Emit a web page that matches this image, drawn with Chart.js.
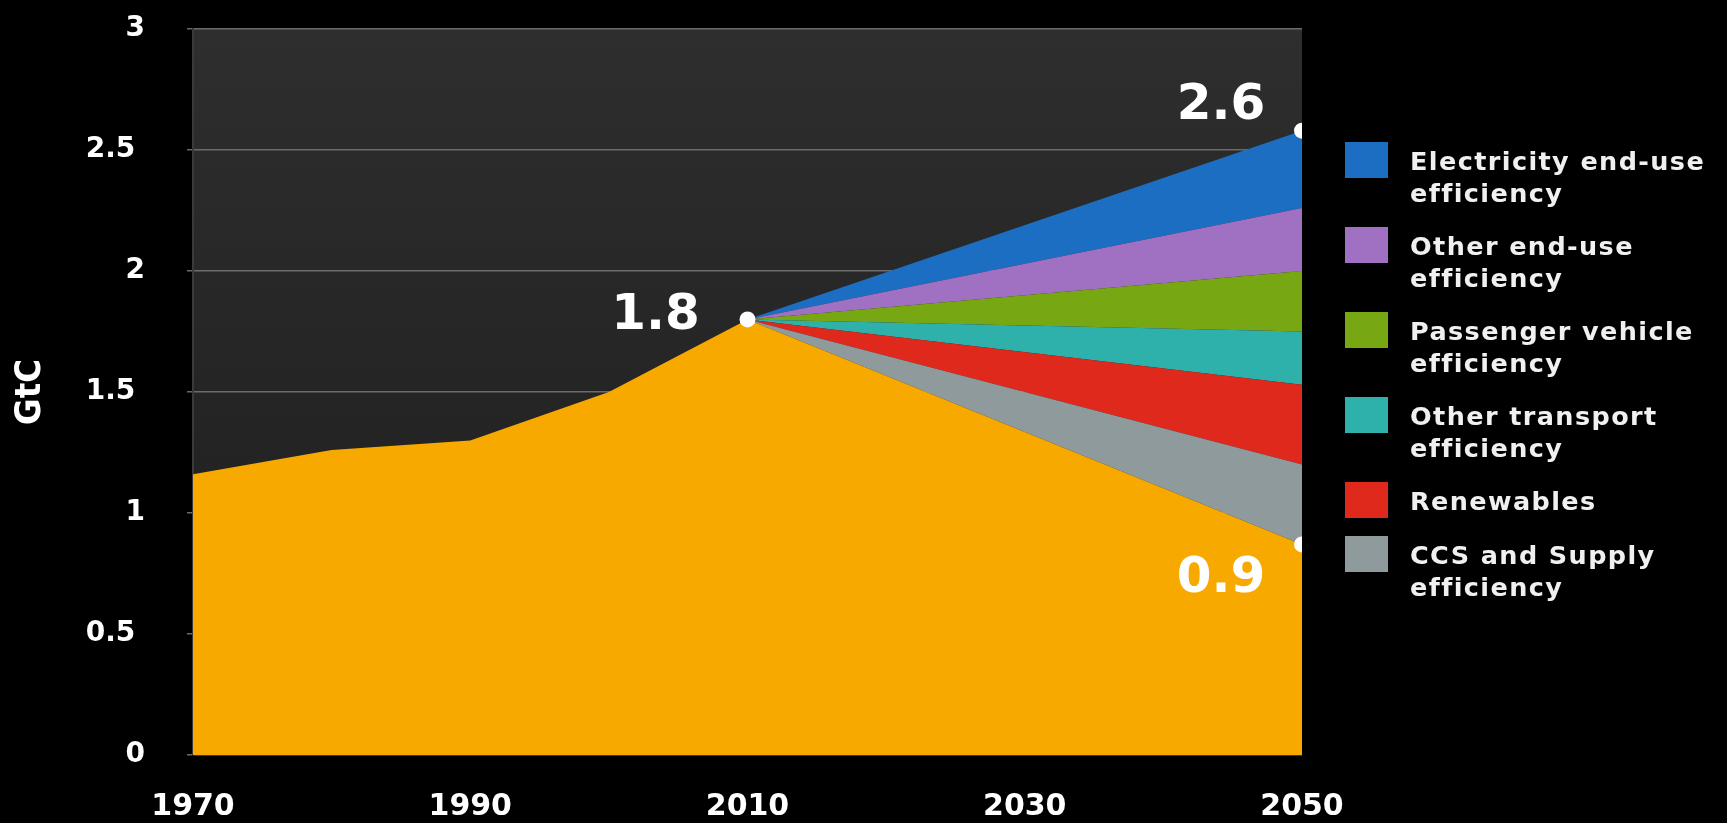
<!DOCTYPE html>
<html>
<head>
<meta charset="utf-8">
<title>GtC wedges</title>
<script src="https://cdn.jsdelivr.net/npm/chart.js@4.4.1/dist/chart.umd.min.js"></script>
<style>
    html, body { margin: 0; padding: 0; background: #000; }
    #wrap { position: relative; width: 1727px; height: 823px; }
    #legend {
        position: absolute; left: 1345px; top: 145px;
        font-family: 'DejaVu Sans', sans-serif; font-weight: bold;
        font-size: 25.5px; letter-spacing: 1.4px; color: #f0f0f0;
    }
    .item { display: flex; align-items: flex-start; margin-bottom: 21px; }
    .swatch { width: 43px; height: 36px; margin-top: -3px; margin-right: 22px; flex: none; }
    .label { line-height: 32px; max-width: 330px; }
</style>
</head>
<body>
<div id="wrap">
    <canvas id="myAreaChart" width="1727" height="823"></canvas>
    <div id="legend"></div>
</div>
<script>
// data
var years = [1970, 1980, 1990, 2000, 2010, 2050];
var emissions = [1.16, 1.26, 1.30, 1.50, 1.80, 0.87];

var wedgeYears = [2010, 2050];
var ccsSupply = [0, 0.33];
var renewables = [0, 0.33];
var otherTransport = [0, 0.22];
var passengerVehicle = [0, 0.25];
var otherEndUse = [0, 0.26];
var electricityEndUse = [0, 0.32];

var wedgeNames = ['CCS and Supply efficiency', 'Renewables', 'Other transport efficiency',
    'Passenger vehicle efficiency', 'Other end-use efficiency', 'Electricity end-use efficiency'];
var wedgeColors = ['#8f9a9c', '#df291c', '#2fb1ab', '#77a813', '#a070c2', '#1c6ec3'];

var markerYears = [2010, 2050, 2050];
var markerValues = [1.80, 2.58, 0.87];
var markerLabels = ['1.8', '2.6', '0.9'];

var xTicks = [1970, 1990, 2010, 2030, 2050];
var yTicks = [0, 0.5, 1, 1.5, 2, 2.5, 3];

// label offsets from their dots (px)
var labelOffsets = [[-92, -3], [-81, -25], [-81, 35]];

function points(xs, ys) {
    return xs.map(function (x, i) { return { x: x, y: ys[i] }; });
}

var wedgeData = [ccsSupply, renewables, otherTransport, passengerVehicle, otherEndUse, electricityEndUse];

var datasets = [{
    label: 'Emissions',
    data: points(years, emissions),
    backgroundColor: '#f7a900',
    fill: 'origin'
}];
wedgeData.forEach(function (vals, i) {
    datasets.push({
        label: wedgeNames[i],
        data: points(wedgeYears, vals),
        backgroundColor: wedgeColors[i],
        fill: '-1'
    });
});
datasets.push({
    label: 'markers',
    data: points(markerYears, markerValues),
    stack: 'markers',
    showLine: false,
    fill: false,
    order: -1,
    pointRadius: 8,
    pointBackgroundColor: '#fff',
    pointBorderWidth: 0
});

var plotBackground = {
    id: 'plotBackground',
    beforeDraw: function (chart) {
        var ctx = chart.ctx, a = chart.chartArea;
        var g = ctx.createLinearGradient(0, a.top, 0, a.bottom);
        g.addColorStop(0, '#2e2e2e');
        g.addColorStop(1, '#1c1c1c');
        ctx.save();
        ctx.fillStyle = g;
        ctx.fillRect(a.left, a.top, a.right - a.left, a.bottom - a.top);
        ctx.restore();
    }
};

var valueLabels = {
    id: 'valueLabels',
    afterDatasetsDraw: function (chart) {
        var ctx = chart.ctx, x = chart.scales.x, y = chart.scales.y;
        ctx.save();
        ctx.font = 'bold 50px "DejaVu Sans"';
        ctx.fillStyle = '#fff';
        ctx.textAlign = 'center';
        ctx.textBaseline = 'middle';
        markerLabels.forEach(function (t, i) {
            ctx.fillText(t, x.getPixelForValue(markerYears[i]) + labelOffsets[i][0],
                y.getPixelForValue(markerValues[i]) + labelOffsets[i][1]);
        });
        ctx.restore();
    }
};

var ctx = document.getElementById('myAreaChart').getContext('2d');
var myAreaChart = new Chart(ctx, {
    type: 'line',
    data: { datasets: datasets },
    options: {
        responsive: false,
        animation: false,
        layout: { padding: { top: 29, right: 425, left: 0, bottom: 0 } },
        elements: {
            line: { tension: 0, borderWidth: 0 },
            point: { radius: 0 }
        },
        plugins: {
            legend: { display: false },
            tooltip: { enabled: false }
        },
        scales: {
            x: {
                type: 'linear',
                min: 1970,
                max: 2050,
                grid: { display: false, drawTicks: false },
                border: { display: false },
                afterBuildTicks: function (s) { s.ticks = xTicks.map(function (v) { return { value: v }; }); },
                afterFit: function (s) { s.height = 68; },
                ticks: {
                    color: '#fff',
                    font: { family: 'DejaVu Sans', weight: 'bold', size: 30 },
                    padding: 34,
                    maxRotation: 0,
                    autoSkip: false,
                    callback: function (v) { return String(v); }
                }
            },
            y: {
                stacked: true,
                min: 0,
                max: 3,
                afterBuildTicks: function (s) { s.ticks = yTicks.map(function (v) { return { value: v }; }); },
                afterFit: function (s) {
                    s.width = 193;
                    // the big tick padding shouldn't push the plot top down
                    s.paddingTop = 0;
                    s.paddingBottom = 0;
                },
                grid: { color: '#6b6b6b', lineWidth: 1.5, tickLength: 6, tickColor: '#6b6b6b' },
                border: { display: true, color: '#3a3a3a', width: 2 },
                ticks: {
                    color: '#fff',
                    font: { family: 'DejaVu Sans', weight: 'bold', size: 28 },
                    padding: 42,
                    autoSkip: false,
                    // decimals sit a little left of the whole numbers in the original
                    callback: function (v) { return Number.isInteger(v) ? String(v) : v + ' '; }
                },
                title: {
                    display: true,
                    text: 'GtC',
                    color: '#fff',
                    font: { family: "'Liberation Sans Narrow', 'DejaVu Sans Condensed', sans-serif", weight: 'bold', size: 36 },
                    padding: { top: 9, bottom: 0 }
                }
            }
        }
    },
    plugins: [plotBackground, valueLabels]
});

// legend, top item = top wedge
var legend = document.getElementById('legend');
for (var i = wedgeNames.length - 1; i >= 0; i--) {
    var item = document.createElement('div');
    item.className = 'item';
    var sw = document.createElement('div');
    sw.className = 'swatch';
    sw.style.background = wedgeColors[i];
    var lb = document.createElement('div');
    lb.className = 'label';
    lb.textContent = wedgeNames[i];
    item.appendChild(sw);
    item.appendChild(lb);
    legend.appendChild(item);
}
</script>
</body>
</html>
